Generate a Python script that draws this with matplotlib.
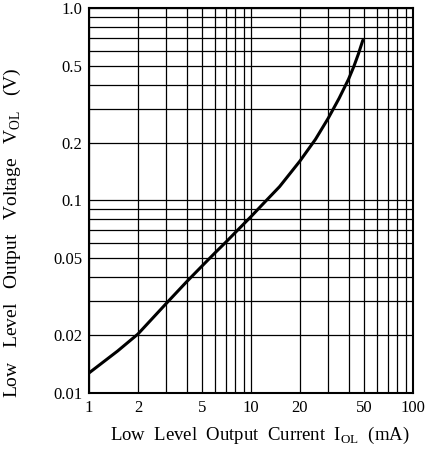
import matplotlib
matplotlib.use("Agg")
import matplotlib.pyplot as plt
from matplotlib.ticker import FixedLocator, NullFormatter

plt.rcParams['font.family'] = ['Liberation Serif', 'DejaVu Serif']
plt.rcParams['mathtext.fontset'] = 'custom'
plt.rcParams['mathtext.rm'] = 'Liberation Serif'

# curve
i_ol = [1, 1.5, 2, 3, 4, 5, 6, 7, 8, 10, 12, 15, 20, 25, 30, 35, 40, 43, 46, 49]
v_ol = [0.0127, 0.0165, 0.0202, 0.0292, 0.0378, 0.0458, 0.0535, 0.0608, 0.0682,
        0.0825, 0.097, 0.118, 0.16, 0.208, 0.268, 0.34, 0.427, 0.494, 0.577, 0.68]

x_ticks = [1, 2, 5, 10, 20, 50, 100]
x_labels = ['1', '2', '5', '10', '20', '50', '100']
y_ticks = [0.01, 0.02, 0.05, 0.1, 0.2, 0.5, 1.0]
y_labels = ['0.01', '0.02', '0.05', '0.1', '0.2', '0.5', '1.0']

x_grid = [k * d for d in (1, 10) for k in range(1, 10)] + [100]
y_grid = [k * d for d in (0.01, 0.1) for k in range(1, 10)] + [1.0]

fig = plt.figure(figsize=(4.37, 4.51), dpi=100)
ax = fig.add_axes([0.204, 0.129, 0.741, 0.853])

ax.set_xscale('log')
ax.set_yscale('log')
ax.set_xlim(1, 100)
ax.set_ylim(0.01, 1.0)

for g in x_grid:
    ax.axvline(g, color='black', lw=0.9, zorder=1)
for g in y_grid:
    ax.axhline(g, color='black', lw=0.9, zorder=1)

ax.plot(i_ol, v_ol, color='black', lw=2.2, solid_joinstyle='round',
        solid_capstyle='round', zorder=3)

ax.xaxis.set_major_locator(FixedLocator(x_ticks))
ax.set_xticklabels(x_labels)
ax.xaxis.set_minor_formatter(NullFormatter())
ax.yaxis.set_major_locator(FixedLocator(y_ticks))
ax.set_yticklabels(y_labels)
ax.yaxis.set_minor_formatter(NullFormatter())
ax.tick_params(which='both', length=0, labelsize=12, pad=5)

for s in ax.spines.values():
    s.set_linewidth(1.5)

ax.set_xlabel(r'Low  Level  Output  Current  I$_{\mathrm{OL}}$  (mA)', fontsize=13.5)
ax.set_ylabel(r'Low   Level   Output   Voltage   V$_{\mathrm{OL}}$   (V)', fontsize=14)
ax.xaxis.set_label_coords(0.527, -0.083)
ax.yaxis.set_label_coords(-0.204, 0.415)

fig.savefig('out.png', dpi=100)
